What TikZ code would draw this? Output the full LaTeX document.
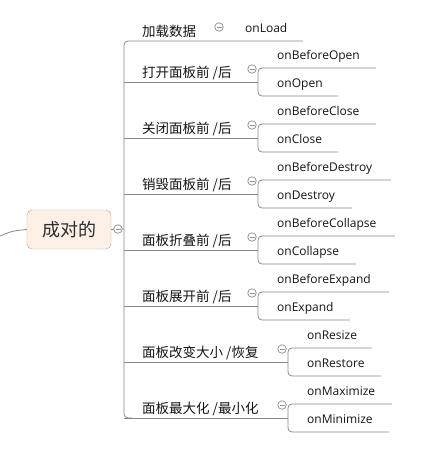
\documentclass[tikz,border=0pt]{standalone}
\usepackage{fontspec}
\setmainfont{Open Sans}
\newfontfamily\cjk{Noto Sans CJK SC}
\definecolor{linegray}{RGB}{135,135,135}
\definecolor{foldgray}{RGB}{150,150,150}
\definecolor{rootfill}{RGB}{253,241,231}
\definecolor{rootline}{RGB}{185,165,145}
\definecolor{txt}{RGB}{20,20,20}
\tikzset{
  topic/.style={anchor=base west, inner sep=0pt, text=txt,
    font=\cjk\fontsize{13.5}{14}\selectfont},
  event/.style={anchor=base west, inner sep=0pt, text=txt,
    font=\fontsize{12}{13}\selectfont},
  rootbox/.style={draw=rootline, fill=rootfill, rounded corners=5pt,
    minimum width=84pt, minimum height=39pt, inner sep=0pt, text=txt!90,
    font=\cjk\fontsize{18}{19}\selectfont},
  fold/.style={circle, draw=foldgray, line width=0.8pt, fill=white,
    minimum size=8.5pt, inner sep=0pt,
    path picture={\draw[foldgray, line width=0.8pt]
      ([xshift=-2.5pt]path picture bounding box.center) --
      ([xshift=2.5pt]path picture bounding box.center);}},
  branch/.style={draw=linegray, line width=0.8pt, rounded corners=4pt},
}
\begin{document}
\begin{tikzpicture}[x=1pt, y=-1pt]
    \useasboundingbox (0,0) rectangle (438,453);
    % centre node
    \node[rootbox] (root) at (69,229.5) {成对的};
    \coordinate (in) at (0,236);
    \draw[branch] (in) .. controls (12,231) .. (root.west);
    % spine
    \coordinate (s0) at (124,229);
    \coordinate (top) at (303,41);
    \draw[branch] (top) -- (124,41) -- (124,418) -- (132,418);
    \draw[branch] (root.east) -- (s0);
    \node[fold] (f0) at (118,229) {};
    % single child
    \node[topic] (t0) at (142,36) {加载数据};
    \node[fold] (g0) at (219,27) {};
    \node[event] (load) at (245,32) {onLoad};
    % pairs: underline y / junction x / topic / first / line end / second / line end
    \foreach \i/\u/\cx/\name/\a/\ea/\b/\eb in {
        1/82/258/{打开面板前 /后}/onBeforeOpen/376/onOpen/338,
        2/138/258/{关闭面板前 /后}/onBeforeClose/376/onClose/338,
        3/194/258/{销毁面板前 /后}/onBeforeDestroy/391/onDestroy/352,
        4/250/258/{面板折叠前 /后}/onBeforeCollapse/395/onCollapse/356,
        5/306/258/{面板展开前 /后}/onBeforeExpand/389/onExpand/350,
        6/362/288/{面板改变大小 /恢复}/onResize/372/onRestore/381,
        7/418/288/{面板最大化 /最小化}/onMaximize/392/onMinimize/389}
    {
        \coordinate (s\i) at (124,\u);
        \coordinate (j\i) at (\cx,\u);
        \node[topic] (t\i) at (142,\u-4.5) {\name};
        \node[event] (a\i) at (\cx+19,\u-23) {\a};
        \node[event] (b\i) at (\cx+19,\u+5) {\b};
        \draw[branch] (\ea,\u-14) -- (\cx,\u-14) -- (\cx,\u+14) -- (\eb,\u+14);
        \draw[branch] (s\i) -- (j\i);
        \node[fold] (g\i) at (\cx-6,\u-13) {};
    }
\end{tikzpicture}
\end{document}
